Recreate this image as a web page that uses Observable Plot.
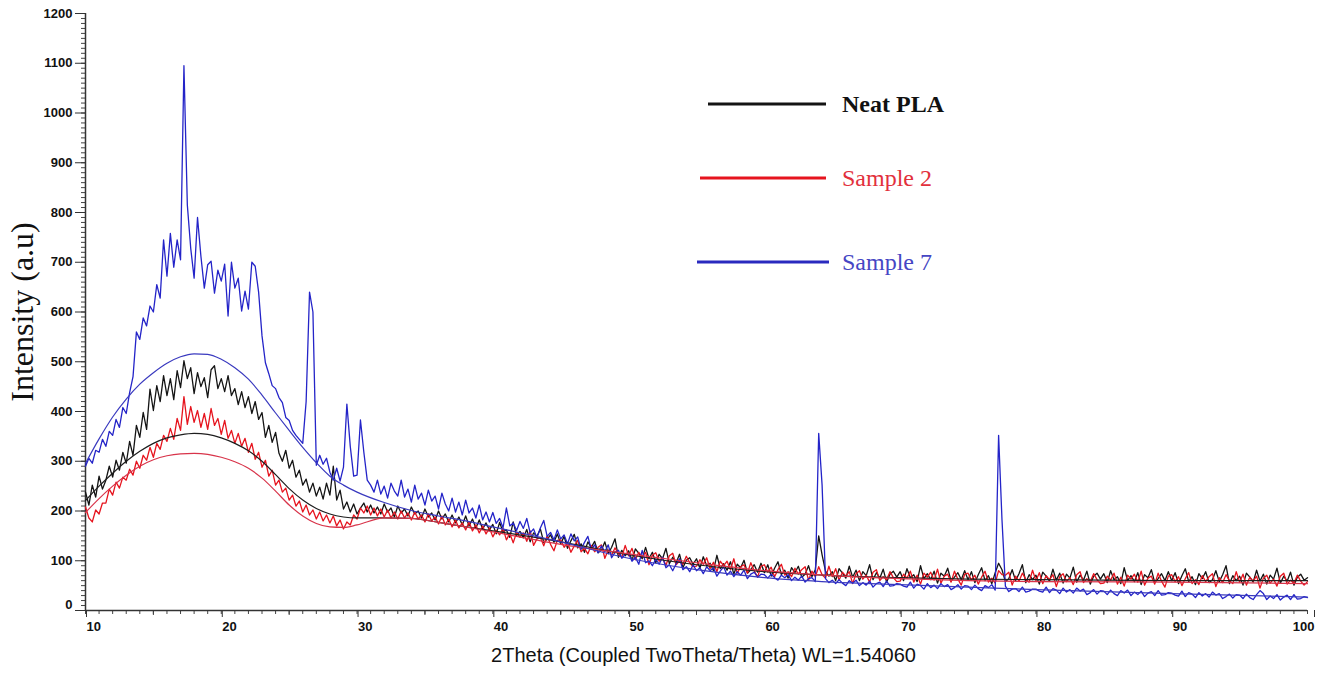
<!DOCTYPE html>
<html>
<head>
<meta charset="utf-8">
<script src="https://cdn.jsdelivr.net/npm/d3@7"></script>
<script src="https://cdn.jsdelivr.net/npm/@observablehq/plot@0.6"></script>
<style>
  html, body { margin: 0; padding: 0; background: #fff; }
  #wrap { position: relative; width: 1319px; height: 673px; }
  #legend { position: absolute; left: 0; top: 0; pointer-events: none; }
</style>
</head>
<body>
<div id="wrap"></div>
<script>
// ---- Data ----
// 2θ grid: 10° to 100° in 0.25° steps (361 samples)
const thetaStart = 10, thetaStep = 0.25, nSamples = 361;

const seriesNames = ["Neat PLA", "Sample 2", "Sample 7"];

const neatPLA = [
238,212,252,228,270,244,262,290,268,302,282,318,296,340,312,372,348,398,364,445,
402,452,420,472,432,466,424,482,448,502,466,488,436,478,450,468,428,484,492,446,
466,440,472,432,446,414,440,408,430,396,420,384,398,348,372,338,358,316,300,322,
286,302,268,282,252,264,238,256,230,248,224,256,232,290,222,242,204,218,198,214,
194,206,216,198,212,196,208,194,214,198,206,188,210,196,204,190,208,194,200,186,
204,188,196,182,200,184,194,178,192,176,188,172,190,170,184,166,182,164,176,162,
173,154,177,158,162,147,178,151,159,146,163,138,156,149,164,137,143,152,137,154,
134,149,125,140,153,126,134,117,138,127,139,116,121,138,114,127,144,107,121,110,
120,101,124,115,104,127,104,117,96,113,104,125,94,107,96,113,86,101,106,93,
104,85,108,90,95,80,111,84,94,81,98,73,93,86,101,75,82,92,77,95,
76,92,69,85,98,72,81,65,86,76,89,67,73,90,68,82,150,112,79,69,
78,60,84,75,65,89,67,81,60,78,70,92,62,76,65,83,57,73,79,67,
78,60,84,66,72,58,90,64,74,62,79,55,75,69,85,59,67,76,62,80,
62,78,56,72,86,60,70,54,76,95,82,58,64,82,60,74,92,56,72,62,
71,53,77,69,59,83,61,75,55,73,65,87,57,71,61,79,53,69,75,63,
74,56,80,62,68,54,86,60,70,58,76,52,72,66,82,56,64,74,60,78,
60,76,54,70,84,58,68,52,74,64,78,56,62,80,58,72,90,54,70,60,
69,51,75,67,57,81,59,73,53,71,63,85,55,69,59,77,51,67,73,61,66
];

const sample2 = [
208,186,178,202,194,216,216,244,232,258,246,268,262,284,272,300,286,312,302,328,
308,336,324,352,340,366,344,386,362,430,374,410,378,402,368,396,364,406,372,386,
354,382,346,362,336,356,330,346,318,336,304,318,288,302,270,282,252,262,238,246,
222,232,210,220,198,212,192,202,184,198,180,192,176,190,170,182,164,178,172,192,
184,206,196,210,192,206,190,204,188,202,186,198,184,200,186,196,182,198,184,192,
178,194,180,188,174,190,172,184,168,182,166,176,162,178,160,172,156,170,154,166,
148,161,152,165,142,155,136,157,147,156,139,160,131,144,147,130,150,133,120,141,
142,127,136,117,130,141,118,125,114,131,118,127,132,105,122,111,126,114,107,131,
110,125,102,117,108,117,92,111,116,99,106,91,110,115,92,100,93,109,96,88,
89,102,93,106,84,97,78,99,90,99,82,104,75,88,92,75,96,80,67,89,
92,77,87,68,82,93,71,78,68,85,73,82,88,61,79,68,88,72,65,89,
68,84,61,77,69,78,54,74,80,63,71,57,77,82,60,68,62,78,66,58,
59,73,65,79,57,71,53,75,67,77,61,83,55,69,73,57,79,63,51,73,
75,61,71,53,67,79,57,65,55,80,72,71,77,51,69,59,75,63,57,81,
60,76,54,70,62,72,48,68,74,58,66,52,72,78,56,64,58,74,62,54,
55,69,61,75,53,67,49,71,63,73,57,79,51,65,69,53,75,59,47,69,
72,58,68,50,64,76,54,62,52,70,58,68,74,48,66,56,72,60,54,78,
57,73,51,67,59,69,45,65,71,55,63,49,69,75,53,61,55,71,59,51,58
];

const sample7 = [
290,306,296,322,318,344,330,360,352,384,368,408,396,438,470,560,545,588,572,612,
600,655,628,745,672,758,690,745,705,1095,815,728,668,790,712,648,695,702,638,684,
662,696,592,700,648,668,602,642,606,700,692,640,552,498,476,452,446,428,418,388,
382,362,352,344,336,420,640,600,292,312,294,306,278,262,286,260,288,415,330,270,
272,383,318,262,252,238,262,234,250,226,256,240,230,262,228,244,218,252,224,236,
212,242,220,230,204,236,214,200,226,198,218,192,222,196,206,186,212,182,198,178,
197,175,185,166,206,170,176,161,179,165,185,156,164,146,166,181,149,157,142,162,
144,152,134,154,140,148,123,137,149,123,132,116,130,118,132,106,117,121,105,113,
114,99,107,93,121,96,100,90,103,93,107,86,92,80,94,104,82,88,78,92,
80,86,74,88,80,86,69,79,88,71,79,68,78,71,81,64,73,77,67,73,
72,65,73,66,61,71,66,72,60,67,61,69,57,64,66,58,356,252,64,56,
61,54,62,55,50,60,55,61,50,56,51,59,47,54,57,48,59,49,50,54,
53,49,47,57,45,53,50,43,54,46,51,44,54,48,52,42,46,52,43,50,
49,42,51,44,40,50,46,52,41,352,182,49,38,43,44,38,47,37,39,43,
43,39,37,47,36,44,41,34,45,37,42,35,45,39,43,32,36,42,33,40,
39,32,41,34,30,40,35,41,30,37,32,39,28,35,38,30,40,31,32,36,
35,31,29,39,28,36,33,26,36,29,34,27,37,31,34,24,28,33,25,32,
31,24,33,26,22,32,40,34,22,29,24,32,21,27,31,22,32,23,24,28,26
];

// Smooth amorphous-halo fit curves
const fitTheta = [10,11,12,13,14,15,16,17,18,19,20,21,22,23,24,25,26,27,28,29,30,32,34,36,38,40,45,50,55,60,65,70,75,80,90,100];
const neatPLAFit = [221,250,276,300,320,336,347,353,356,354,347,336,321,300,273,245,222,205,194,188,186,186,185,177,168,160,138,112,92,78,70,66,63,62,60,60];
const sample2Fit = [197,225,250,272,290,303,311,315,316,314,308,299,286,266,240,212,190,175,168,167,172,186,185,177,168,158,133,114,96,80,70,64,60,58,57,54];
const sample7Fit = [296,345,389,425,455,478,497,510,516,515,505,488,465,433,397,362,328,297,270,252,238,217,201,190,180,168,138,105,82,66,57,52,47,42,34,27];

const xTicks = [10,20,30,40,50,60,70,80,90,100];
const yTicks = [0,100,200,300,400,500,600,700,800,900,1000,1100,1200];

const xLabel = "2Theta (Coupled TwoTheta/Theta) WL=1.54060";
const yLabel = "Intensity (a.u)";

// ---- Build tables ----
const theta = d3.range(nSamples).map(i => thetaStart + i * thetaStep);
const toRows = (vals) => vals.map((v, i) => ({t: theta[i], v}));
const fitRows = (vals) => vals.map((v, i) => ({t: fitTheta[i], v}));

const colors = {black: "#141414", red: "#e6141e", blue: "#2424c8"};
const fitColors = {black: "#1e1e1e", red: "#d8344a", blue: "#3a3abf"};

const tickFont = "Liberation Sans, Arial, sans-serif";
const fmt = d => String(d);

const chart = Plot.plot({
  width: 1319,
  height: 673,
  marginLeft: 85,
  marginRight: 12,
  marginTop: 13,
  marginBottom: 63,
  style: {background: "#fff", color: "#111", fontFamily: tickFont},
  x: {domain: [10, 100], label: null},
  y: {domain: [0, 1200], label: null},
  marks: [
    // axes: minor ticks
    Plot.axisY(d3.range(0, 1201, 10), {tickSize: 4, fill: "none", stroke: "#444", label: null}),
    Plot.axisX(d3.range(10, 101, 1), {tickSize: 4, fill: "none", stroke: "#444", label: null}),
    Plot.axisX(d3.range(15, 100, 10), {tickSize: 5, fill: "none", stroke: "#444", label: null}),
    // axes: major ticks and labels
    Plot.axisY(yTicks, {tickSize: 10, fill: "none", stroke: "#333", label: null}),
    Plot.axisY(yTicks.slice(1), {tickSize: 10, tickPadding: 3, stroke: "none", fontSize: 13, fontWeight: "bold", tickFormat: fmt, label: null}),
    Plot.axisY(yTicks.slice(0, 1), {tickSize: 10, tickPadding: 3, stroke: "none", dy: -6, fontSize: 13, fontWeight: "bold", tickFormat: fmt, label: null}),
    Plot.axisX(xTicks.slice(0, -1), {tickSize: 7, tickPadding: 4, stroke: "#333", fontSize: 13, fontWeight: "bold", textAnchor: "start", dx: 1, tickFormat: fmt, label: null}),
    Plot.axisX(xTicks.slice(-1), {tickSize: 7, tickPadding: 4, stroke: "#333", fontSize: 13, fontWeight: "bold", textAnchor: "end", dx: 7, tickFormat: fmt, label: null}),
    Plot.ruleX([10], {stroke: "#333", strokeWidth: 1.5}),
    Plot.ruleY([0], {stroke: "#333", strokeWidth: 1.5}),
    // raw patterns
    Plot.line(toRows(neatPLA), {x: "t", y: "v", stroke: colors.black, strokeWidth: 1.3}),
    Plot.line(toRows(sample2), {x: "t", y: "v", stroke: colors.red, strokeWidth: 1.3}),
    Plot.line(toRows(sample7), {x: "t", y: "v", stroke: colors.blue, strokeWidth: 1.3}),
    // fitted halos
    Plot.line(fitRows(neatPLAFit), {x: "t", y: "v", stroke: fitColors.black, strokeWidth: 1.2, curve: "monotone-x"}),
    Plot.line(fitRows(sample2Fit), {x: "t", y: "v", stroke: fitColors.red, strokeWidth: 1.2, curve: "monotone-x"}),
    Plot.line(fitRows(sample7Fit), {x: "t", y: "v", stroke: fitColors.blue, strokeWidth: 1.2, curve: "monotone-x"}),
    // axis titles
    Plot.text([xLabel], {frameAnchor: "bottom", dy: 51, dx: 7, fontSize: 20, fill: "#111", textAnchor: "middle", fontFamily: tickFont}),
    Plot.text([yLabel], {frameAnchor: "left", dx: -63, rotate: -90, textAnchor: "middle", fontSize: 32, fill: "#111", fontFamily: "Liberation Serif, Times New Roman, serif"})
  ]
});

const wrap = document.getElementById("wrap");
wrap.appendChild(chart);

// ---- Legend (inside plot, top right) ----
const legendItems = [
  {name: seriesNames[0], line: colors.black, text: "#111", weight: "bold", x1: 708, x2: 826, y: 104},
  {name: seriesNames[1], line: colors.red, text: "#e2303c", weight: "normal", x1: 700, x2: 826, y: 178},
  {name: seriesNames[2], line: "#2a2abf", text: "#4646c4", weight: "normal", x1: 697, x2: 829, y: 262}
];
const svg = d3.select(wrap).append("svg")
  .attr("id", "legend").attr("width", 1319).attr("height", 673);
legendItems.forEach(d => {
  svg.append("line").attr("x1", d.x1).attr("x2", d.x2).attr("y1", d.y).attr("y2", d.y)
    .attr("stroke", d.line).attr("stroke-width", 3);
  svg.append("text").attr("x", 842).attr("y", d.y + 8)
    .attr("fill", d.text).attr("font-weight", d.weight)
    .attr("font-family", "Liberation Serif, Times New Roman, serif").attr("font-size", 24)
    .text(d.name);
});
</script>
</body>
</html>
